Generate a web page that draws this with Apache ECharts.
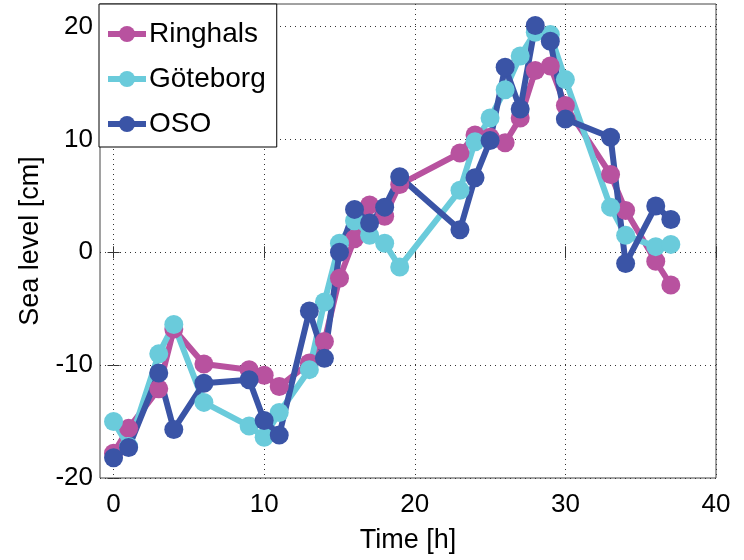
<!DOCTYPE html>
<html>
<head>
<meta charset="utf-8">
<script src="https://cdn.jsdelivr.net/npm/echarts@6/dist/echarts.min.js"></script>
<style>
  html, body { margin: 0; padding: 0; background: #fff; }
  #chart { width: 744px; height: 560px; }
</style>
</head>
<body>
<div id="chart"></div>
<script>
// hours of observation
const hours = [0, 1, 3, 4, 6, 9, 10, 11, 13, 14, 15, 16, 17, 18, 19, 23, 24, 25, 26, 27, 28, 29, 30, 33, 34, 36, 37];

// sea level [cm] per station
const ringhals = [-17.8, -15.6, -12.1, -6.8, -9.9, -10.4, -10.9, -11.9, -9.8, -7.9, -2.3, 1.2, 4.2, 3.2, 6.0, 8.8, 10.4, 10.2, 9.7, 11.9, 16.1, 16.5, 13.0, 6.9, 3.7, -0.8, -2.9];
const goteborg = [-15.0, -17.2, -9.0, -6.4, -13.3, -15.4, -16.4, -14.2, -10.4, -4.4, 0.8, 2.8, 1.5, 0.8, -1.3, 5.5, 9.8, 11.9, 14.4, 17.4, 19.5, 19.3, 15.3, 4.0, 1.5, 0.5, 0.7];
const oso = [-18.2, -17.3, -10.7, -15.7, -11.6, -11.3, -14.9, -16.2, -5.2, -9.4, 0.0, 3.8, 2.6, 4.0, 6.7, 2.0, 6.6, 9.9, 16.4, 12.7, 20.1, 18.7, 11.8, 10.2, -1.0, 4.1, 2.9];

const xTicks = [0, 10, 20, 30, 40];
const yTicks = [-20, -10, 0, 10, 20];

const stations = [
    { name: 'Ringhals', values: ringhals, color: '#b8529f' },
    { name: 'Göteborg', values: goteborg, color: '#6acbdb' },
    { name: 'OSO', values: oso, color: '#3a54a6' }
];

const font = 'Liberation Sans, Arial, sans-serif';
const dotted = { show: true, lineStyle: { color: '#333', type: [1, 4], width: 1 } };
const tick = { show: true, inside: true, length: 6, lineStyle: { color: '#333' } };

const chart = echarts.init(document.getElementById('chart'));
chart.setOption({
    animation: false,
    grid: { left: 100, right: 28, top: 4, bottom: 82, show: true, borderColor: '#444', borderWidth: 1, backgroundColor: '#fff' },
    legend: {
        left: 99, top: 4, orient: 'vertical',
        padding: [16, 11, 9, 6], itemGap: 17, itemWidth: 38, itemHeight: 20,
        backgroundColor: '#fff', borderColor: '#000', borderWidth: 1,
        lineStyle: { width: 6 },
        textStyle: { fontSize: 28, color: '#000', fontFamily: font, padding: [0, 0, 0, -2] },
        data: stations.map(s => s.name)
    },
    xAxis: [{
        type: 'value', min: -0.9, max: 40, interval: 10,
        name: 'Time [h]', nameLocation: 'middle', nameGap: 49,
        nameTextStyle: { fontSize: 27, color: '#000', fontFamily: font },
        axisLine: { show: false },
        axisTick: Object.assign({ customValues: xTicks }, tick),
        axisLabel: { fontSize: 26, color: '#000', fontFamily: font, margin: 14, customValues: xTicks },
        splitLine: dotted
    }, {
        type: 'value', min: -0.9, max: 40, position: 'top',
        axisLine: { show: false },
        axisTick: Object.assign({ customValues: xTicks }, tick),
        axisLabel: { show: false }, splitLine: { show: false }
    }],
    yAxis: [{
        type: 'value', min: -20, max: 22, interval: 10,
        name: 'Sea level [cm]', nameLocation: 'middle', nameGap: 55,
        nameTextStyle: { fontSize: 27, color: '#000', fontFamily: font },
        axisLine: { show: false },
        axisTick: Object.assign({ customValues: yTicks }, tick),
        axisLabel: { fontSize: 26, color: '#000', fontFamily: font, margin: 7, customValues: yTicks },
        splitLine: dotted
    }, {
        type: 'value', min: -20, max: 22, position: 'right',
        axisLine: { show: false },
        axisTick: Object.assign({ customValues: yTicks }, tick),
        axisLabel: { show: false }, splitLine: { show: false }
    }],
    series: stations.map(s => ({
        name: s.name,
        type: 'line',
        data: hours.map((h, i) => [h, s.values[i]]),
        symbol: 'circle',
        symbolSize: 19,
        color: s.color,
        lineStyle: { width: 6, color: s.color },
        itemStyle: { color: s.color }
    }))
});
</script>
</body>
</html>
